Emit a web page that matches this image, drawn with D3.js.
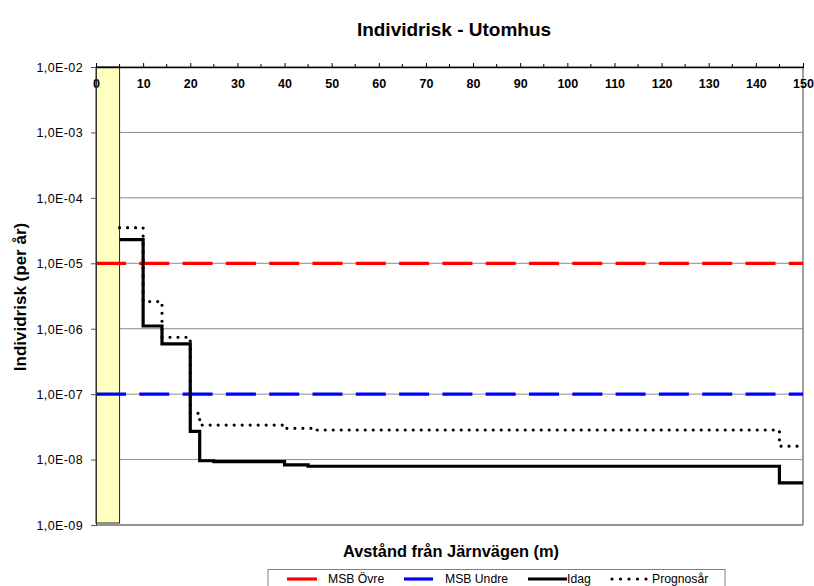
<!DOCTYPE html>
<html>
<head>
<meta charset="utf-8">
<script src="https://cdn.jsdelivr.net/npm/d3@7"></script>
<style>
  body { margin: 0; background: #fff; }
  svg { display: block; font-family: "Liberation Sans", Arial, sans-serif; }
</style>
</head>
<body>
<svg id="chart" width="814" height="586"></svg>
<script>
// Distance (m) where each step starts, and risk per year from that point on
const idagX = [5, 10, 14, 20, 22, 25, 40, 45, 145, 150];
const idagY = [2.3e-5, 1.1e-6, 5.85e-7, 2.7e-8, 9.6e-9, 9.3e-9, 8.3e-9, 7.9e-9, 4.4e-9, 4.4e-9];

const progX = [5, 10, 14, 20, 22, 40, 46, 145, 150];
const progY = [3.5e-5, 2.6e-6, 7.4e-7, 5.1e-8, 3.37e-8, 3.0e-8, 2.83e-8, 1.6e-8, 1.6e-8];

// Criteria levels
const msbOvre = 1e-5;
const msbUndre = 1e-7;

// Zone next to the track
const zoneRange = [0, 5];

// Axis ticks
const xTickValues = [0, 10, 20, 30, 40, 50, 60, 70, 80, 90, 100, 110, 120, 130, 140, 150];
const xMinorTicks = [5, 15, 25, 35, 45, 55, 65, 75, 85, 95, 105, 115, 125, 135, 145];
const yTickValues = [1e-2, 1e-3, 1e-4, 1e-5, 1e-6, 1e-7, 1e-8, 1e-9];
const yTickLabels = ["1,0E-02", "1,0E-03", "1,0E-04", "1,0E-05", "1,0E-06", "1,0E-07", "1,0E-08", "1,0E-09"];

const legendItems = [
  { label: "MSB Övre", color: "#ff0000", dots: false, x0: 287, x1: 317, tx: 328 },
  { label: "MSB Undre", color: "#0000ff", dots: false, x0: 404, x1: 433, tx: 445 },
  { label: "Idag", color: "#000", dots: false, x0: 528, x1: 567, tx: 567 },
  { label: "Prognosår", color: "#000", dots: true, x0: 612, x1: 647, tx: 652 }
];

const svg = d3.select("#chart");
const plotL = 96, plotR = 803, plotT = 67, plotB = 525;

const x = d3.scaleLinear().domain([0, 150]).range([plotL, plotR]);
const y = d3.scaleLog().domain([1e-9, 1e-2]).range([plotB, plotT]);

svg.append("rect").attr("width", 814).attr("height", 586).attr("fill", "#fff");

// Horizontal gridlines at each decade
svg.append("g").selectAll("line").data(yTickValues).join("line")
  .attr("x1", plotL).attr("x2", plotR)
  .attr("y1", d => y(d)).attr("y2", d => y(d))
  .attr("stroke", "#8c8c8c").attr("stroke-width", 1);

// Right and bottom frame
svg.append("line").attr("x1", plotR).attr("x2", plotR).attr("y1", plotT).attr("y2", plotB)
  .attr("stroke", "#808080").attr("stroke-width", 1.5);
svg.append("line").attr("x1", plotL).attr("x2", plotR).attr("y1", plotB).attr("y2", plotB)
  .attr("stroke", "#808080").attr("stroke-width", 1.5);

// Yellow zone
svg.append("rect")
  .attr("x", x(zoneRange[0])).attr("width", x(zoneRange[1]) - x(zoneRange[0]))
  .attr("y", plotT).attr("height", plotB - 2 - plotT)
  .attr("fill", "#ffffc0").attr("stroke", "#222").attr("stroke-width", 1);

// Criteria lines
const dash = "30,13.3";
[[msbOvre, "#ff0000"], [msbUndre, "#0000ff"]].forEach(([v, c]) => {
  svg.append("line")
    .attr("x1", x(0)).attr("x2", x(150))
    .attr("y1", y(v)).attr("y2", y(v))
    .attr("stroke", c).attr("stroke-width", 3.2)
    .attr("stroke-dasharray", dash);
});

const stepLine = d3.line().x(d => x(d[0])).y(d => y(d[1])).curve(d3.curveStepAfter);

svg.append("path")
  .datum(progX.map((d, i) => [d, progY[i]]))
  .attr("d", stepLine)
  .attr("fill", "none").attr("stroke", "#000").attr("stroke-width", 3.2)
  .attr("stroke-linecap", "round").attr("stroke-dasharray", "0,8");

svg.append("path")
  .datum(idagX.map((d, i) => [d, idagY[i]]))
  .attr("d", stepLine)
  .attr("fill", "none").attr("stroke", "#000").attr("stroke-width", 3.2)
  .attr("stroke-linejoin", "miter");

// Top x-axis: ticks point up, labels sit just below the line
const xAxis = svg.append("g").attr("transform", `translate(0,${plotT})`)
  .call(d3.axisTop(x).tickValues(xTickValues).tickSize(5).tickSizeOuter(0).tickFormat(d3.format("d")));
xAxis.select(".domain").attr("stroke", "#000").attr("stroke-width", 1.5);
xAxis.selectAll(".tick line").attr("stroke", "#000").attr("y2", -4).attr("y1", 1);
xAxis.selectAll(".tick text")
  .attr("y", 21).attr("dy", 0)
  .attr("font-size", 12.5).attr("font-weight", "bold")
  .attr("font-family", "Liberation Sans, Arial, sans-serif").attr("fill", "#000");
svg.append("g").selectAll("line").data(xMinorTicks).join("line")
  .attr("x1", d => x(d)).attr("x2", d => x(d))
  .attr("y1", plotT - 3).attr("y2", plotT + 1)
  .attr("stroke", "#000");

// Left y-axis
const yAxis = svg.append("g").attr("transform", `translate(${plotL},0)`)
  .call(d3.axisLeft(y).tickValues(yTickValues).tickSize(5).tickSizeOuter(0)
    .tickFormat((d, i) => yTickLabels[i]));
yAxis.select(".domain").attr("stroke", "#333").attr("stroke-width", 1);
yAxis.selectAll(".tick line").attr("stroke", "#555");
yAxis.selectAll(".tick text")
  .attr("x", -13).attr("dy", "0.35em")
  .attr("font-size", 12.5).attr("letter-spacing", 0.4)
  .attr("font-family", "Liberation Sans, Arial, sans-serif").attr("fill", "#000");

// Titles
svg.append("text").attr("x", 454).attr("y", 36).attr("text-anchor", "middle")
  .attr("font-size", 19).attr("font-weight", "bold").text("Individrisk - Utomhus");
svg.append("text").attr("x", 451).attr("y", 557).attr("text-anchor", "middle")
  .attr("font-size", 16.4).attr("font-weight", "bold").text("Avstånd från Järnvägen (m)");
svg.append("text").attr("transform", "translate(26,297) rotate(-90)").attr("text-anchor", "middle")
  .attr("font-size", 17).attr("font-weight", "bold").text("Individrisk (per år)");

// Legend
const lg = svg.append("g");
lg.append("rect").attr("x", 268).attr("y", 569.5).attr("width", 457).attr("height", 30)
  .attr("fill", "#fff").attr("stroke", "#808080").attr("stroke-width", 1);
legendItems.forEach(it => {
  const ln = lg.append("line").attr("x1", it.x0).attr("x2", it.x1).attr("y1", 579).attr("y2", 579)
    .attr("stroke", it.color).attr("stroke-width", 3.2);
  if (it.dots) ln.attr("stroke-dasharray", "0,8.5").attr("stroke-linecap", "round");
  lg.append("text").attr("x", it.tx).attr("y", 582.5).attr("font-size", 12.2).text(it.label);
});
</script>
</body>
</html>
